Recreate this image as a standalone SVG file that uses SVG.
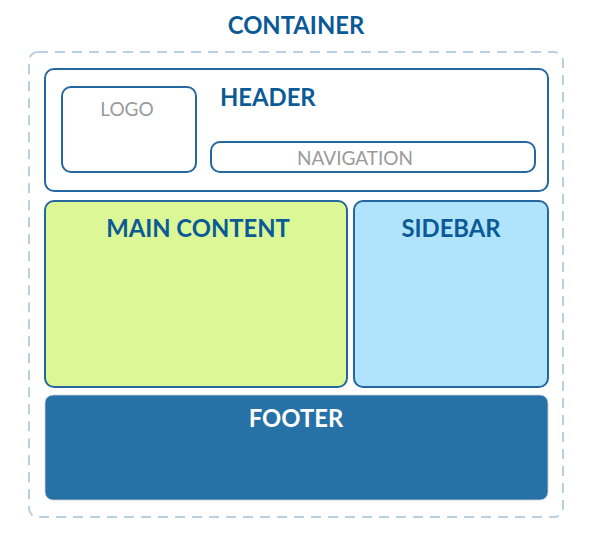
<svg xmlns="http://www.w3.org/2000/svg" width="594" height="537" viewBox="0 0 594 537">
<style>
.box{stroke:#25679f;stroke-width:2}
.title{font-family:Lato,"Liberation Sans",sans-serif;font-weight:bold;font-size:23.8px;fill:#0b5a96}
.sub{font-family:Lato,"Liberation Sans",sans-serif;font-size:19px;fill:#9a9a9a}
</style>
<rect width="594" height="537" fill="#ffffff"/>
<g id="container">
<rect x="29" y="52" width="534" height="465" rx="9" fill="none" stroke="#b9d0e0" stroke-width="2" stroke-dasharray="10 7"/>
<text class="title" x="296" y="34" text-anchor="middle">CONTAINER</text>
</g>
<g id="header">
<rect class="box" x="45" y="69" width="503" height="122" rx="9" fill="#ffffff"/>
<text class="title" x="220" y="106">HEADER</text>
</g>
<g id="logo">
<rect class="box" x="62" y="87" width="134" height="85" rx="9" fill="#ffffff"/>
<text class="sub" x="127" y="116" text-anchor="middle">LOGO</text>
</g>
<g id="navigation">
<rect class="box" x="211" y="142" width="324" height="30" rx="9" fill="#ffffff"/>
<text class="sub" x="355" y="165" text-anchor="middle">NAVIGATION</text>
</g>
<g id="main-content">
<rect class="box" x="45" y="201" width="302" height="186" rx="9" fill="#dbf796"/>
<text class="title" x="198" y="237" text-anchor="middle">MAIN CONTENT</text>
</g>
<g id="sidebar">
<rect class="box" x="354" y="201" width="194" height="186" rx="9" fill="#b0e4fd"/>
<text class="title" x="451" y="237" text-anchor="middle">SIDEBAR</text>
</g>
<g id="footer">
<rect x="45" y="395" width="503" height="105" rx="8" fill="#2671a5" stroke="#c8d0d8" stroke-width="0.8"/>
<text class="title" x="296" y="427" text-anchor="middle" style="fill:#ffffff">FOOTER</text>
</g>
<g id="connectors"></g>
</svg>
